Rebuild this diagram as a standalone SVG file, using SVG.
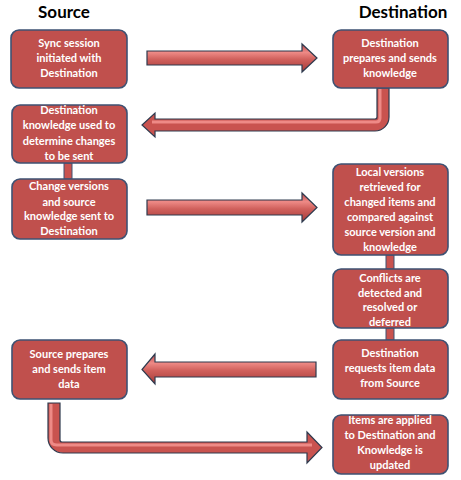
<svg xmlns="http://www.w3.org/2000/svg" width="461" height="480" viewBox="0 0 461 480">
<defs>
<linearGradient id="gh" x1="0" y1="0" x2="0" y2="1">
<stop offset="0" stop-color="#B8474A"/>
<stop offset="0.3" stop-color="#EE8A86"/>
<stop offset="0.55" stop-color="#D0605C"/>
<stop offset="1" stop-color="#A63B38"/>
</linearGradient>
</defs>
<style>
.box{fill:#C0504D;stroke:#3E5273;stroke-width:1.6}
.t{font-family:Lato,"Liberation Sans",sans-serif;font-size:11px;font-weight:bold;fill:#FFFFFF;text-anchor:middle}
.h{font-family:Lato,"Liberation Sans",sans-serif;font-size:17px;font-weight:bold;fill:#000000;text-anchor:middle}
.arr{fill:url(#gh);stroke:#2E3A4E;stroke-width:1.2;stroke-linejoin:miter}
.arr2{fill:#C9534F;stroke:#2E3A4E;stroke-width:1.2}
.hl{fill:none;stroke:#EE8A86;stroke-width:3;stroke-linejoin:round}
.bar{fill:#C9534F;stroke:#3E5273;stroke-width:1}
</style>
<rect width="461" height="480" fill="#FFFFFF"/>
<text class="h" x="64" y="18">Source</text>
<text class="h" x="403" y="18">Destination</text>
<g id="connectors">
<path class="arr" d="M147,51 L302,51 L302,44 L317,58 L302,72 L302,65 L147,65 Z"/>
<path class="arr2" d="M377,88 L389,88 L389,117 A14,14 0 0 1 375,131 L155,131 L155,137 L142,125 L155,113 L155,119 L375,119 A2,2 0 0 0 377,117 Z"/>
<path class="hl" d="M380,89 L380,118 Q380,122 376,122 L152,122"/>
<path class="arr" d="M147,200 L302,200 L302,193 L317,207.5 L302,222 L302,215 L147,215 Z"/>
<path class="arr" d="M316,362 L155,362 L155,354 L142,369.5 L155,384 L155,377 L316,377 Z"/>
<path class="arr2" d="M48,403 L60,403 L60,440 A2,2 0 0 0 62,442 L307,442 L307,432 L322,447.5 L307,463 L307,453 L63,453 A15,15 0 0 1 48,438 Z"/>
<path class="hl" d="M51,404 L51,440 Q51,445 57,445 L312,445"/>
<rect class="bar" x="64" y="163" width="8" height="16"/>
<rect class="bar" x="386" y="255" width="8" height="14"/>
<rect class="bar" x="386" y="328" width="8" height="12"/>
</g>
<g id="n1"><rect class="box" x="11" y="30" width="116" height="58" rx="8"/>
<text class="t" x="69" y="47">Sync session</text><text class="t" x="69" y="62">initiated with</text><text class="t" x="69" y="77">Destination</text></g>
<g id="n2"><rect class="box" x="333" y="30" width="115" height="58" rx="8"/>
<text class="t" x="390" y="47">Destination</text><text class="t" x="390" y="62">prepares and sends</text><text class="t" x="390" y="77">knowledge</text></g>
<g id="n3"><rect class="box" x="12" y="105" width="115" height="58" rx="8"/>
<text class="t" x="69" y="114">Destination</text><text class="t" x="69" y="129">knowledge  used to</text><text class="t" x="69" y="145">determine changes</text><text class="t" x="69" y="160">to be sent</text></g>
<g id="n4"><rect class="box" x="12" y="179" width="115" height="60" rx="8"/>
<text class="t" x="69" y="190">Change versions</text><text class="t" x="69" y="206">and  source</text><text class="t" x="69" y="220">knowledge  sent to</text><text class="t" x="69" y="235">Destination</text></g>
<g id="n5"><rect class="box" x="333" y="164" width="115" height="91" rx="8"/>
<text class="t" x="390" y="176">Local  versions</text><text class="t" x="390" y="191">retrieved for</text><text class="t" x="390" y="206">changed items and</text><text class="t" x="390" y="221">compared against</text><text class="t" x="390" y="236">source version and</text><text class="t" x="390" y="251">knowledge</text></g>
<g id="n6"><rect class="box" x="333" y="269" width="115" height="59" rx="8"/>
<text class="t" x="390" y="282">Conflicts are</text><text class="t" x="390" y="297">detected and</text><text class="t" x="390" y="311">resolved or</text><text class="t" x="390" y="326">deferred</text></g>
<g id="n7"><rect class="box" x="333" y="340" width="115" height="59" rx="8"/>
<text class="t" x="390" y="357">Destination</text><text class="t" x="390" y="372">requests item  data</text><text class="t" x="390" y="387">from Source</text></g>
<g id="n8"><rect class="box" x="333" y="415" width="115" height="59" rx="8"/>
<text class="t" x="390" y="424">Items are applied</text><text class="t" x="390" y="439">to Destination and</text><text class="t" x="390" y="454">Knowledge is</text><text class="t" x="390" y="469">updated</text></g>
<g id="n9"><rect class="box" x="12" y="340" width="115" height="59" rx="8"/>
<text class="t" x="69" y="358">Source prepares</text><text class="t" x="69" y="373">and sends item</text><text class="t" x="69" y="388">data</text></g>
</svg>
